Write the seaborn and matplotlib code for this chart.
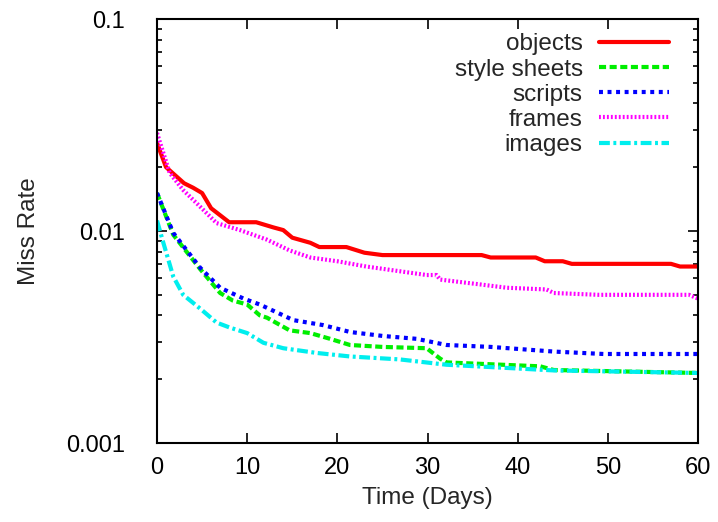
import pandas as pd
import seaborn as sns
import matplotlib.pyplot as plt

# values (miss rate vs. day)
objects_days = [0, 1, 3, 4, 5, 6, 8, 11, 12.9, 14, 15, 17, 18, 21, 23, 25, 36, 37, 42, 43, 45, 46, 57, 58, 60]
objects_rate = [0.026, 0.020, 0.0168, 0.016, 0.0151, 0.0128, 0.011, 0.011, 0.0104, 0.0101, 0.0093, 0.0088,
                0.0084, 0.0084, 0.0079, 0.0077, 0.0077, 0.0075, 0.0075, 0.0072, 0.0072, 0.0070, 0.0070,
                0.0068, 0.0068]

sheets_days = [0, 1.8, 4.8, 7, 8.4, 10, 11.4, 12.2, 14.7, 17, 19.2, 21.4, 25, 29.9, 31.4, 32.1, 42.5, 44, 60]
sheets_rate = [0.0151, 0.0096, 0.0066, 0.0051, 0.0047, 0.0045, 0.0040, 0.0039, 0.0034, 0.0033, 0.0031,
               0.0029, 0.00284, 0.0028, 0.0025, 0.0024, 0.0023, 0.00221, 0.00214]

scripts_days = [0, 1.8, 4.8, 7, 9.6, 11.4, 14, 15.1, 18.4, 21.4, 25, 28.8, 32.1, 37, 44, 49.5, 60]
scripts_rate = [0.0151, 0.0098, 0.0067, 0.0054, 0.0048, 0.0045, 0.0040, 0.0038, 0.0036, 0.00334, 0.0032,
                0.0031, 0.0029, 0.00284, 0.0027, 0.00263, 0.00263]

frames_days = [0, 1.4, 2.9, 4.8, 6.6, 9.2, 12.2, 14.7, 17, 20, 23.2, 29.9, 31, 31.4, 35.8, 38.8, 43.2, 44, 49, 59, 60]
frames_rate = [0.029, 0.0188, 0.0156, 0.013, 0.0109, 0.0101, 0.0091, 0.0081, 0.0075, 0.0072, 0.0068,
               0.0062, 0.0062, 0.0059, 0.0056, 0.0054, 0.0053, 0.0051, 0.0050, 0.0050, 0.0048]

images_days = [0, 0.7, 1.8, 2.9, 4.8, 6.6, 8.1, 10, 11.8, 14, 17.7, 21.4, 26.9, 32.1, 44, 60]
images_rate = [0.0112, 0.0088, 0.0061, 0.0050, 0.0043, 0.0037, 0.0035, 0.0033, 0.00297, 0.0028, 0.00266,
               0.00256, 0.00248, 0.00234, 0.0022, 0.00214]

series = {
    "objects": (objects_days, objects_rate),
    "style sheets": (sheets_days, sheets_rate),
    "scripts": (scripts_days, scripts_rate),
    "frames": (frames_days, frames_rate),
    "images": (images_days, images_rate),
}
palette = {"objects": "#ff0000", "style sheets": "#00ee00", "scripts": "#0000ff",
           "frames": "#ff00ff", "images": "#00eeee"}
dashes = {"objects": "", "style sheets": (1.7, 0.85), "scripts": (0.95, 1.1),
          "frames": (0.45, 0.5), "images": (2.6, 0.85, 0.7, 0.85)}

frames = []
for name, (d, r) in series.items():
    frames.append(pd.DataFrame({"day": d, "rate": r, "type": name}))
df = pd.concat(frames, ignore_index=True)

sns.set_style("ticks")
plt.rcParams["font.family"] = ["Liberation Sans", "DejaVu Sans"]

fig = plt.figure(figsize=(7.18, 5.22), dpi=100)
ax = fig.add_axes([0.2187, 0.1513, 0.7535, 0.8123])

sns.lineplot(data=df, x="day", y="rate", hue="type", style="type", palette=palette,
             dashes=dashes, estimator=None, sort=False, linewidth=3, ax=ax)

ax.set_yscale("log")
ax.set_xlim(0, 60)
ax.set_ylim(0.001, 0.1)
ax.set_xticks(range(0, 61, 10))
ax.set_yticks([0.001, 0.01, 0.1])
ax.set_yticklabels(["0.001", "0.01", "0.1"])

for s in ax.spines.values():
    s.set_linewidth(1.5)
    s.set_color("black")
ax.tick_params(which="both", direction="in", top=True, right=True, width=1.2, colors="black")
ax.tick_params(which="major", length=7, labelsize=17)
ax.tick_params(which="minor", length=3.6)
ax.tick_params(axis="x", pad=10)
ax.tick_params(axis="y", pad=23)

ax.set_xlabel("Time (Days)", fontsize=17.5)
ax.set_ylabel("Miss Rate", fontsize=17.5)
ax.xaxis.set_label_coords(0.5, -0.103)
ax.yaxis.set_label_coords(-0.216, 0.5)

handles, labels = ax.get_legend_handles_labels()
ax.legend(handles, labels, loc="upper right", bbox_to_anchor=(0.946, 0.966), frameon=False,
          markerfirst=False, alignment="right", fontsize=17.5, handlelength=2.88,
          handletextpad=0.66, labelspacing=0.13, borderaxespad=0, borderpad=0)

fig.savefig("out.png", dpi=100)
